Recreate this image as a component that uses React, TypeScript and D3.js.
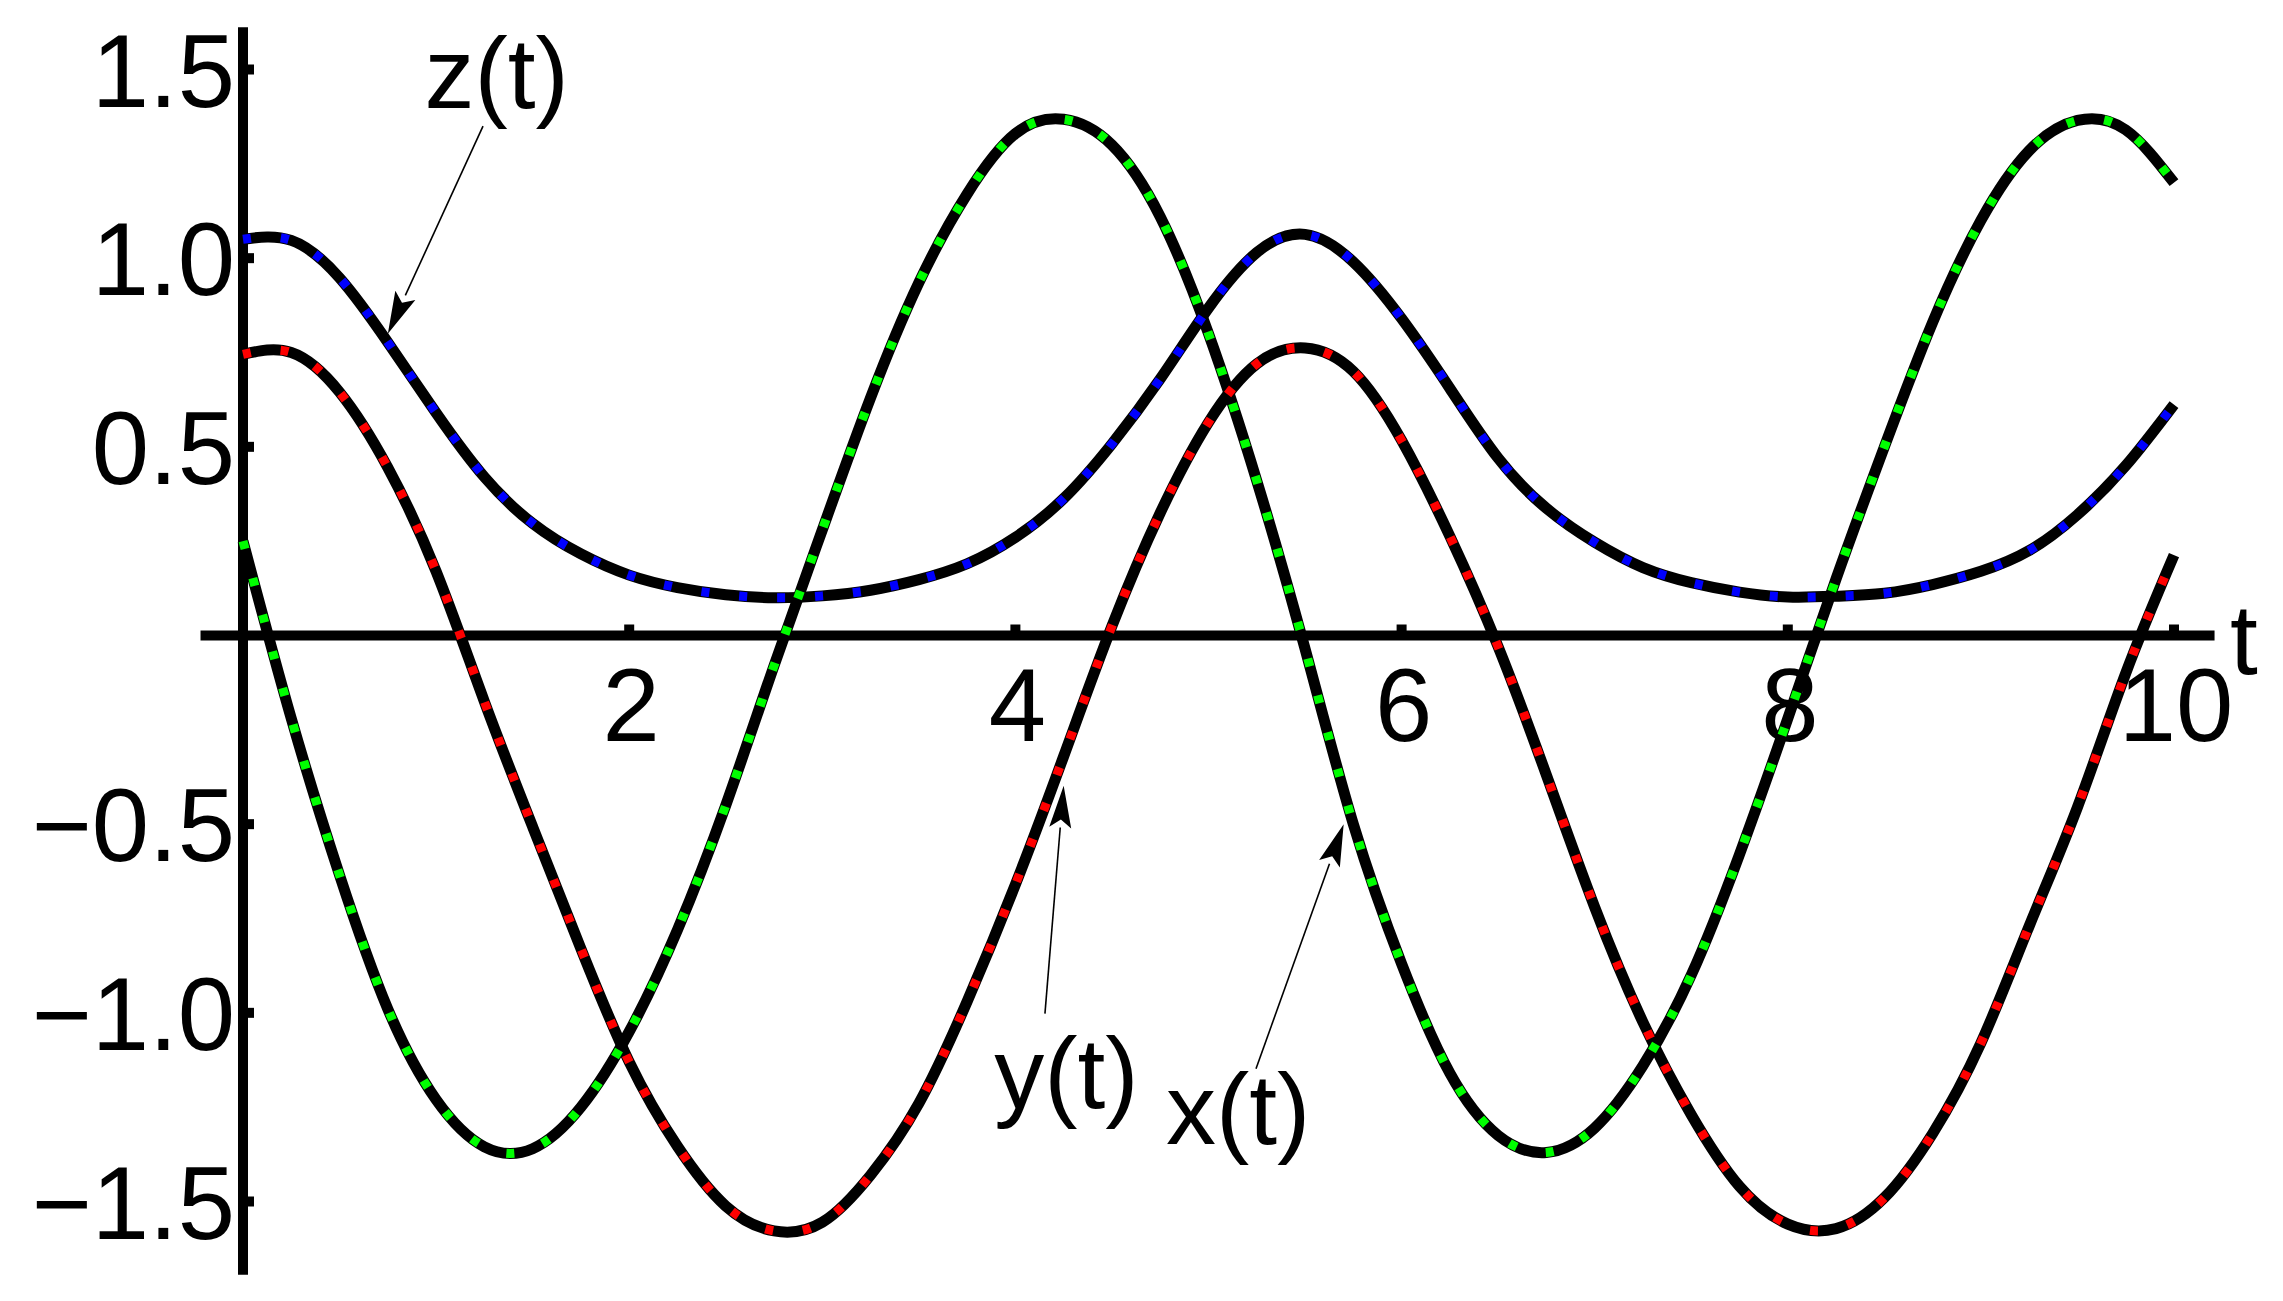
import React, { useEffect, useRef } from "react";
import * as d3 from "d3";

const W = 2283;
const H = 1301;

// time samples
const tValues = [
  0, 0.25, 0.5, 0.75, 1, 1.25, 1.5, 1.75, 2, 2.25, 2.5, 2.75, 3, 3.25, 3.5, 3.75, 4, 4.25, 4.5, 4.75, 5,
  5.25, 5.5, 5.75, 6, 6.25, 6.5, 6.75, 7, 7.25, 7.5, 7.75, 8, 8.25, 8.5, 8.75, 9, 9.25, 9.5, 9.75, 10,
];

// x(t) - green
const xValues = [
  0.25, -0.22, -0.635, -0.99, -1.23, -1.355, -1.36, -1.25, -1.05, -0.78, -0.45, -0.08, 0.28, 0.63, 0.935,
  1.17, 1.33, 1.368, 1.3, 1.11, 0.8, 0.41, -0.035, -0.5, -0.87, -1.16, -1.325, -1.37, -1.305, -1.14, -0.9,
  -0.58, -0.22, 0.15, 0.5, 0.83, 1.1, 1.285, 1.365, 1.34, 1.2,
];

// y(t) - red
const yValues = [
  0.745, 0.75, 0.645, 0.445, 0.17, -0.175, -0.507, -0.83, -1.13, -1.354, -1.512, -1.578, -1.555, -1.43,
  -1.24, -0.97, -0.66, -0.32, 0.025, 0.325, 0.565, 0.72, 0.762, 0.7, 0.517, 0.263, -0.03, -0.37, -0.72,
  -1.025, -1.27, -1.46, -1.56, -1.572, -1.49, -1.32, -1.08, -0.77, -0.455, -0.1, 0.213,
];

// z(t) - blue
const zValues = [
  1.05, 1.047, 0.948, 0.777, 0.59, 0.42, 0.297, 0.216, 0.16, 0.127, 0.108, 0.1, 0.105, 0.12, 0.148, 0.19,
  0.26, 0.363, 0.508, 0.68, 0.868, 1.015, 1.063, 0.99, 0.84, 0.655, 0.47, 0.337, 0.247, 0.18, 0.14, 0.115,
  0.102, 0.104, 0.112, 0.135, 0.17, 0.225, 0.32, 0.45, 0.612,
];

const seriesNames = ["x(t)", "y(t)", "z(t)"];
const seriesColors = ["#00ff00", "#ff0000", "#0000ff"];

const xTicks = [2, 4, 6, 8, 10];
const xTickLabels = ["2", "4", "6", "8", "10"];
const yTicks = [1.5, 1, 0.5, -0.5, -1, -1.5];
const yTickLabels = ["1.5", "1.0", "0.5", "\u22120.5", "\u22121.0", "\u22121.5"];

// annotation placement in data units: [labelT, labelV, lineT, lineV, tipT, tipV]
const annotations = [
  { text: "z(t)", lt: 0.94, lv: 1.397, st: 1.243, sv: 1.35, et: 0.75, ev: 0.8 },
  { text: "y(t)", lt: 3.89, lv: -1.252, st: 4.153, sv: -1.002, et: 4.25, ev: -0.398 },
  { text: "x(t)", lt: 4.78, lv: -1.347, st: 5.246, sv: -1.148, et: 5.7, ev: -0.5 },
];

export default function App() {
  const ref = useRef<SVGSVGElement>(null);

  useEffect(() => {
    const svg = d3.select(ref.current);
    svg.selectAll("*").remove();

    const font = "'Liberation Sans', Arial, Helvetica, sans-serif";
    const x = d3.scaleLinear().domain([0, 10]).range([243, 2174]);
    const y = d3.scaleLinear().domain([-1.5, 1.5]).range([1201.5, 69.5]);

    svg.append("rect").attr("width", W).attr("height", H).attr("fill", "#fff");

    // axes
    svg
      .append("line")
      .attr("x1", x(-0.22))
      .attr("x2", x(10.21))
      .attr("y1", y(0))
      .attr("y2", y(0))
      .attr("stroke", "#000")
      .attr("stroke-width", 10);
    svg
      .append("line")
      .attr("x1", x(0))
      .attr("x2", x(0))
      .attr("y1", y(1.612))
      .attr("y2", y(-1.694))
      .attr("stroke", "#000")
      .attr("stroke-width", 10);

    // tick stubs
    svg
      .selectAll(".xt")
      .data(xTicks)
      .join("rect")
      .attr("x", (d) => x(d) - 5)
      .attr("y", y(0) - 11)
      .attr("width", 10)
      .attr("height", 7)
      .attr("fill", "#000");
    svg
      .selectAll(".yt")
      .data(yTicks)
      .join("rect")
      .attr("x", x(0) + 3)
      .attr("y", (d) => y(d) - 5)
      .attr("width", 8)
      .attr("height", 10)
      .attr("fill", "#000");

    // tick labels
    svg
      .selectAll(".xl")
      .data(xTicks)
      .join("text")
      .attr("x", (d) => x(d) + 2)
      .attr("y", 741)
      .attr("text-anchor", "middle")
      .style("font-family", font)
      .style("font-size", "103px")
      .text((d, i) => xTickLabels[i]);
    svg
      .selectAll(".yl")
      .data(yTicks)
      .join("text")
      .attr("x", x(0) - 8)
      .attr("y", (d) => y(d) + 37)
      .attr("text-anchor", "end")
      .style("font-family", font)
      .style("font-size", "103px")
      .text((d, i) => yTickLabels[i]);

    svg
      .append("text")
      .attr("x", 2230)
      .attr("y", 674)
      .style("font-family", font)
      .style("font-size", "100px")
      .text("t");

    // curves
    const series = [xValues, yValues, zValues];
    const line = (vals: number[]) =>
      d3
        .line<number>()
        .x((d, i) => x(tValues[i]))
        .y((d) => y(d))
        .curve(d3.curveNatural)(vals);

    series.forEach((vals) => {
      svg
        .append("path")
        .attr("d", line(vals))
        .attr("fill", "none")
        .attr("stroke", "#000")
        .attr("stroke-width", 11);
    });
    series.forEach((vals, i) => {
      svg
        .append("path")
        .attr("d", line(vals))
        .attr("fill", "none")
        .attr("stroke", seriesColors[i])
        .attr("stroke-width", 9)
        .attr("stroke-dasharray", "8 30")
        .attr("data-name", seriesNames[i]);
    });

    // annotations
    annotations.forEach((a) => {
      const x1 = x(a.st);
      const y1 = y(a.sv);
      const x2 = x(a.et);
      const y2 = y(a.ev);
      const len = Math.hypot(x2 - x1, y2 - y1);
      const ux = (x2 - x1) / len;
      const uy = (y2 - y1) / len;
      const hl = 42;
      const hw = 11;
      const bx = x2 - ux * hl;
      const by = y2 - uy * hl;
      svg
        .append("line")
        .attr("x1", x1)
        .attr("y1", y1)
        .attr("x2", bx)
        .attr("y2", by)
        .attr("stroke", "#000")
        .attr("stroke-width", 1.6);
      svg
        .append("polygon")
        .attr(
          "points",
          [
            [x2, y2],
            [bx - uy * hw, by + ux * hw],
            [bx + ux * 8, by + uy * 8],
            [bx + uy * hw, by - ux * hw],
          ]
            .map((p) => p.join(","))
            .join(" ")
        )
        .attr("fill", "#000");
      svg
        .append("text")
        .attr("x", x(a.lt))
        .attr("y", y(a.lv))
        .style("font-family", font)
        .style("font-size", "100px")
        .text(a.text);
    });
  }, []);

  return (
    <svg
      ref={ref}
      width={W}
      height={H}
      style={{ position: "absolute", left: 0, top: 0, display: "block", background: "#fff" }}
    />
  );
}
